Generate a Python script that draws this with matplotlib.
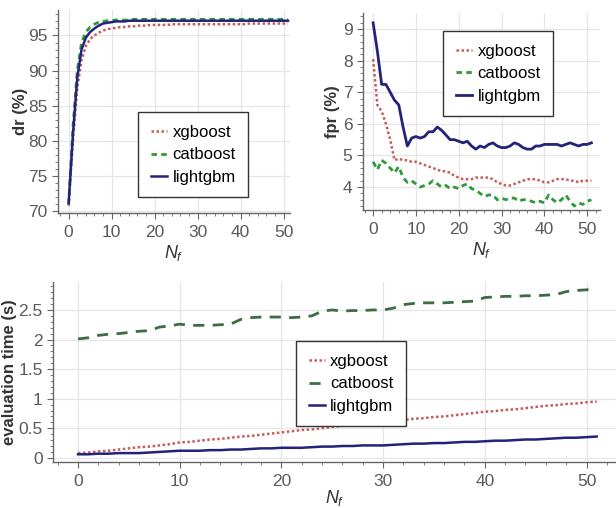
import numpy as np
import matplotlib
matplotlib.use("Agg")
from matplotlib import pyplot as plt
from matplotlib.ticker import MultipleLocator

plt.rcParams['font.family'] = ['Liberation Sans', 'DejaVu Sans']
plt.rcParams['mathtext.fontset'] = 'custom'
plt.rcParams['mathtext.it'] = 'Liberation Sans:italic'
plt.rcParams['mathtext.rm'] = 'Liberation Sans'

# number of features
n_f = np.arange(0, 52)
models = ["xgboost", "catboost", "lightgbm"]

# detection rate (%)
dr_xgb = [70.8, 80.0, 87.5, 91.5, 93.5, 94.5, 95.0, 95.4, 95.7, 95.9,
          96.0, 96.1, 96.2, 96.2, 96.3, 96.3, 96.4, 96.4, 96.4, 96.5,
          96.5, 96.5, 96.5, 96.5, 96.6, 96.6, 96.6, 96.6, 96.6, 96.6,
          96.6, 96.6, 96.6, 96.6, 96.6, 96.6, 96.6, 96.6, 96.6, 96.6,
          96.6, 96.6, 96.7, 96.7, 96.7, 96.7, 96.7, 96.7, 96.7, 96.7,
          96.7, 96.7]
dr_cat = [71.0, 82.0, 90.0, 94.0, 95.5, 96.2, 96.6, 96.9, 97.0, 97.1,
          97.1, 97.2, 97.2, 97.2, 97.2, 97.3, 97.3, 97.3, 97.3, 97.3,
          97.3, 97.3, 97.3, 97.3, 97.3, 97.3, 97.3, 97.3, 97.3, 97.3,
          97.3, 97.3, 97.3, 97.3, 97.3, 97.3, 97.3, 97.3, 97.3, 97.3,
          97.3, 97.3, 97.3, 97.3, 97.3, 97.3, 97.3, 97.3, 97.3, 97.3,
          97.3, 97.3]
dr_lgb = [71.2, 81.0, 89.0, 93.0, 94.7, 95.5, 96.0, 96.4, 96.7, 96.8,
          96.9, 97.0, 97.0, 97.0, 97.1, 97.1, 97.1, 97.1, 97.1, 97.1,
          97.1, 97.1, 97.1, 97.1, 97.1, 97.1, 97.1, 97.1, 97.1, 97.1,
          97.1, 97.1, 97.1, 97.1, 97.1, 97.1, 97.1, 97.1, 97.1, 97.1,
          97.1, 97.1, 97.1, 97.1, 97.1, 97.1, 97.1, 97.1, 97.1, 97.1,
          97.1, 97.1]

# false positive rate (%)
fpr_xgb = [8.05, 6.6, 6.4, 6.0, 5.5, 4.85, 4.9, 4.85, 4.85, 4.8,
           4.8, 4.75, 4.7, 4.65, 4.6, 4.55, 4.5, 4.5, 4.45, 4.35,
           4.3, 4.25, 4.25, 4.25, 4.3, 4.3, 4.3, 4.3, 4.25, 4.15,
           4.1, 4.05, 4.05, 4.1, 4.15, 4.2, 4.25, 4.25, 4.25, 4.2,
           4.15, 4.15, 4.2, 4.25, 4.25, 4.25, 4.2, 4.2, 4.15, 4.2,
           4.2, 4.2]
fpr_cat = [4.8, 4.55, 4.85, 4.75, 4.6, 4.45, 4.65, 4.3, 4.15, 4.2,
           4.1, 4.0, 4.05, 4.1, 4.2, 4.1, 4.0, 4.05, 3.95, 4.0,
           3.95, 4.05, 4.1, 3.95, 3.9, 3.8, 3.7, 3.75, 3.75, 3.6,
           3.65, 3.6, 3.65, 3.65, 3.55, 3.6, 3.6, 3.55, 3.5, 3.55,
           3.5, 3.75, 3.6, 3.5, 3.6, 3.75, 3.55, 3.4, 3.5, 3.45,
           3.55, 3.6]
fpr_lgb = [9.2, 8.3, 7.25, 7.25, 7.0, 6.75, 6.6, 5.9, 5.3, 5.55,
           5.6, 5.55, 5.6, 5.75, 5.75, 5.9, 5.8, 5.65, 5.5, 5.5,
           5.45, 5.4, 5.45, 5.3, 5.2, 5.3, 5.25, 5.35, 5.4, 5.3,
           5.25, 5.25, 5.3, 5.4, 5.35, 5.25, 5.2, 5.2, 5.3, 5.3,
           5.35, 5.35, 5.35, 5.35, 5.3, 5.35, 5.4, 5.35, 5.3, 5.35,
           5.35, 5.4]

# evaluation time (s)
t_xgb = [0.08, 0.09, 0.11, 0.12, 0.14, 0.16, 0.18, 0.19, 0.21, 0.23,
         0.26, 0.27, 0.29, 0.31, 0.32, 0.34, 0.36, 0.37, 0.39, 0.41,
         0.43, 0.45, 0.47, 0.48, 0.50, 0.52, 0.54, 0.55, 0.56, 0.58,
         0.60, 0.62, 0.64, 0.66, 0.67, 0.69, 0.70, 0.72, 0.74, 0.76,
         0.78, 0.79, 0.81, 0.82, 0.84, 0.86, 0.88, 0.89, 0.91, 0.92,
         0.94, 0.95]
t_cat = [2.01, 2.03, 2.07, 2.09, 2.10, 2.12, 2.14, 2.15, 2.21, 2.23,
         2.26, 2.24, 2.24, 2.24, 2.25, 2.26, 2.34, 2.37, 2.38, 2.38,
         2.38, 2.37, 2.38, 2.40, 2.48, 2.50, 2.48, 2.49, 2.49, 2.50,
         2.50, 2.53, 2.59, 2.61, 2.62, 2.62, 2.62, 2.63, 2.64, 2.65,
         2.71, 2.72, 2.73, 2.73, 2.74, 2.74, 2.75, 2.76, 2.81, 2.83,
         2.84, 2.86]
t_lgb = [0.06, 0.06, 0.07, 0.07, 0.08, 0.08, 0.08, 0.09, 0.10, 0.11,
         0.12, 0.12, 0.12, 0.13, 0.13, 0.14, 0.14, 0.15, 0.16, 0.16,
         0.17, 0.17, 0.17, 0.18, 0.19, 0.19, 0.20, 0.20, 0.21, 0.21,
         0.21, 0.22, 0.23, 0.24, 0.24, 0.25, 0.25, 0.26, 0.27, 0.27,
         0.28, 0.29, 0.29, 0.30, 0.31, 0.31, 0.32, 0.33, 0.34, 0.34,
         0.35, 0.36]

c_xgb = '#c85a5a'
c_cat = '#2e9a3a'
c_lgb = '#23237a'
tick_col = '#5a5a5a'
lab_col = '#333333'


def style(ax, ylabel, xlim, ylim, xminor, yminor, ypad, xpad=2):
    ax.set_xlim(xlim)
    ax.set_ylim(ylim)
    ax.grid(True, color='#e6e6e6', linewidth=0.9)
    ax.set_axisbelow(True)
    for s in ['top', 'right']:
        ax.spines[s].set_visible(False)
    for s in ['left', 'bottom']:
        ax.spines[s].set_color('#666666')
        ax.spines[s].set_linewidth(1.0)
    ax.xaxis.set_minor_locator(MultipleLocator(xminor))
    ax.yaxis.set_minor_locator(MultipleLocator(yminor))
    ax.tick_params(which='both', colors='#666666', labelcolor=tick_col,
                   labelsize=12.5, direction='out')
    ax.tick_params(which='major', length=4)
    ax.tick_params(axis='x', which='major', pad=5)
    ax.tick_params(which='minor', length=2.5)
    ax.set_ylabel(ylabel, fontsize=12, fontweight='bold', color=lab_col,
                  labelpad=ypad)
    ax.set_xlabel('$N_f$', fontsize=13, color=lab_col, labelpad=xpad)


def legend(ax, loc, anchor):
    lg = ax.legend(loc=loc, bbox_to_anchor=anchor, fontsize=12,
                   fancybox=False, handlelength=1.0, handletextpad=0.3,
                   labelspacing=0.45, borderpad=0.75, framealpha=1)
    lg.get_frame().set_edgecolor('#333333')
    lg.get_frame().set_linewidth(1.0)


fig = plt.figure(figsize=(6.16, 5.08), dpi=100)

# detection rate
ax1 = fig.add_axes([0.094, 0.581, 0.377, 0.399])
ax1.plot(n_f, dr_xgb, color=c_xgb, ls=(0, (1, 1)), lw=1.8, label=models[0])
ax1.plot(n_f, dr_cat, color=c_cat, ls=(0, (2, 1.5)), lw=2.0, label=models[1])
ax1.plot(n_f, dr_lgb, color=c_lgb, ls='-', lw=1.8, label=models[2])
style(ax1, 'dr (%)', (-2.5, 51.5), (69.8, 98.6), 2, 1, 0)
ax1.set_xticks([0, 10, 20, 30, 40, 50])
ax1.set_yticks([70, 75, 80, 85, 90, 95])
legend(ax1, 'lower left', (0.31, 0.035))

# false positive rate
ax2 = fig.add_axes([0.589, 0.587, 0.385, 0.388])
ax2.plot(n_f, fpr_xgb, color=c_xgb, ls=(0, (1, 1)), lw=1.8, label=models[0])
ax2.plot(n_f, fpr_cat, color=c_cat, ls=(0, (2, 1.5)), lw=2.0, label=models[1])
ax2.plot(n_f, fpr_lgb, color=c_lgb, ls='-', lw=2.0, label=models[2])
style(ax2, 'fpr (%)', (-2.4, 53), (3.28, 9.52), 2, 0.2, 2)
ax2.set_xticks([0, 10, 20, 30, 40, 50])
ax2.set_yticks([4, 5, 6, 7, 8, 9])
legend(ax2, 'upper left', (0.304, 0.949))

# evaluation time
ax3 = fig.add_axes([0.086, 0.0906, 0.914, 0.354])
ax3.plot(n_f, t_xgb, color=c_xgb, ls=(0, (1, 1)), lw=1.8, label=models[0])
ax3.plot(n_f, t_cat, color='#3d6b45', ls=(0, (4, 3)), lw=2.0, label=models[1])
ax3.plot(n_f, t_lgb, color=c_lgb, ls='-', lw=1.8, label=models[2])
style(ax3, 'evaluation time (s)', (-2.46, 52.9), (-0.07, 2.97), 2, 0.1, 1,
      xpad=-1)
ax3.set_xticks([0, 10, 20, 30, 40, 50])
ax3.set_yticks([0, 0.5, 1, 1.5, 2, 2.5])
ax3.set_yticklabels(['0', '0.5', '1', '1.5', '2', '2.5'])
legend(ax3, 'upper left', (0.417, 0.717))

fig.savefig('out.png', dpi=100)
